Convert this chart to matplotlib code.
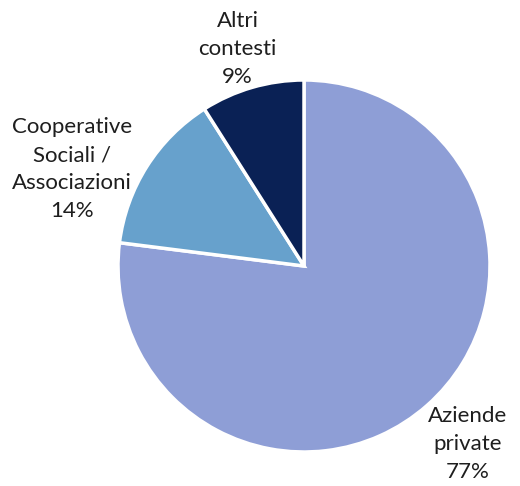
import matplotlib
matplotlib.use("Agg")
import matplotlib.pyplot as plt
import numpy as np

categories = ["Aziende\nprivate", "Cooperative\nSociali /\nAssociazioni", "Altri\ncontesti"]
values = [77, 14, 9]
colors = ["#8E9ED6", "#67A1CC", "#0A2155"]

# label placement (distance from center in radii, angle offset in degrees)
label_dist = [1.30, 1.35, 1.22]
label_angle_offset = [1.2, 9.7, 0.8]

plt.rcParams['font.family'] = ['Lato', 'DejaVu Sans']

fig = plt.figure(figsize=(5.2, 4.86), dpi=100)
R = 186
cx, cy = 304, 486 - 266
ax = fig.add_axes([(cx - R) / 520, (cy - R) / 486, 2 * R / 520, 2 * R / 486])
wedges, _ = ax.pie(values, colors=colors, startangle=90, counterclock=False,
                   radius=1.0, wedgeprops=dict(edgecolor="white", linewidth=2.5))
ax.set_xlim(-1, 1)
ax.set_ylim(-1, 1)
ax.set_aspect("equal")
ax.axis("off")

for w, cat, v, d, off in zip(wedges, categories, values, label_dist, label_angle_offset):
    ang = np.deg2rad((w.theta1 + w.theta2) / 2 + off)
    ax.text(d * np.cos(ang), d * np.sin(ang), f"{cat}\n{v}%", ha="center", va="center",
            multialignment="center", fontsize=16, color="#1e1e1e", linespacing=1.5)

fig.savefig("out.png", dpi=100)
